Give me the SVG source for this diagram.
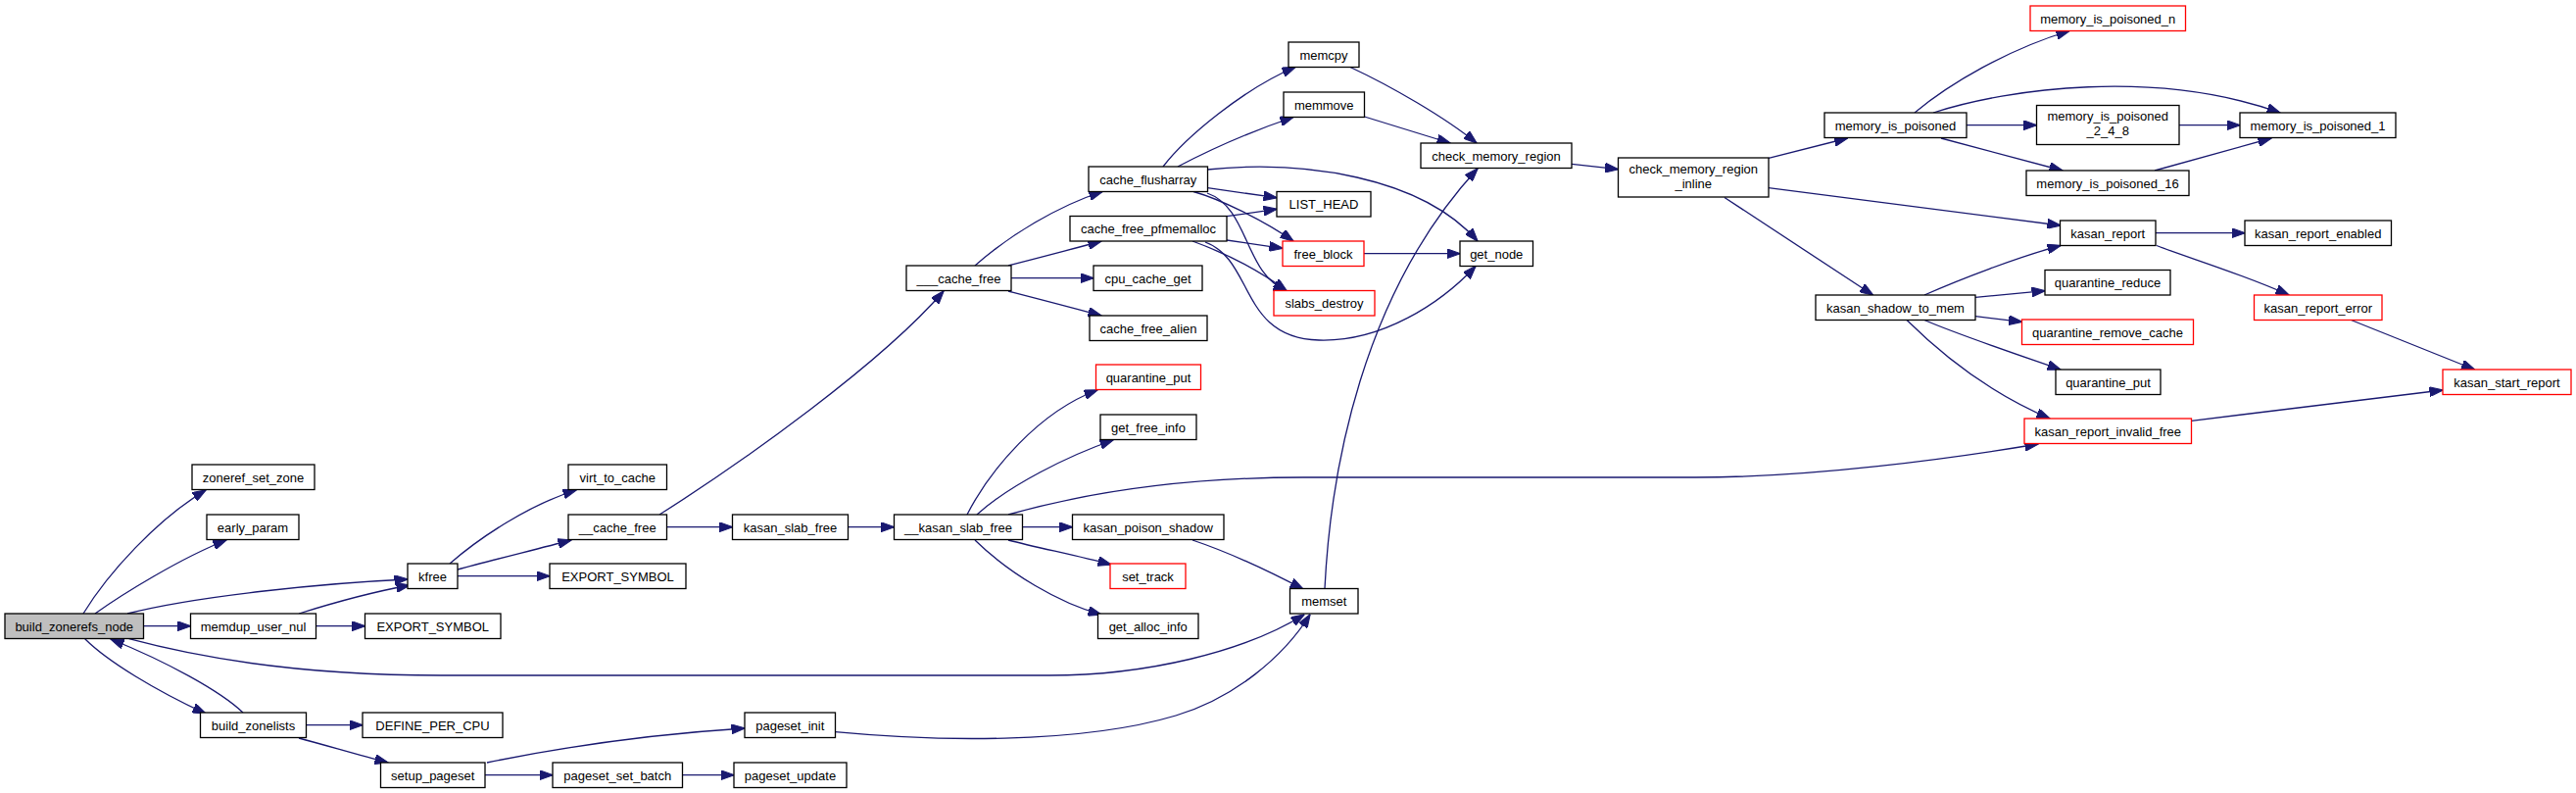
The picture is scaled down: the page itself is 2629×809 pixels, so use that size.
<svg xmlns="http://www.w3.org/2000/svg" width="2629" height="809" viewBox="0 0 2629 809">
<style>
.node rect{fill:#ffffff;stroke:#000000;stroke-width:1.3}
.node.red rect{stroke:#ff0000}
.node.root rect{fill:#bfbfbf}
.node text{font-family:"Liberation Sans",Arial,Helvetica,sans-serif;font-size:13px;text-anchor:middle;fill:#000000}
.edges path{fill:none;stroke:#191970;stroke-width:1.3;marker-end:url(#arr)}
</style>
<defs>
<marker id="arr" viewBox="0 0 14 10" refX="13.5" refY="5" markerWidth="14" markerHeight="10" markerUnits="userSpaceOnUse" orient="auto">
<path d="M0,0 L14,5 L0,10 z" fill="#191970" stroke="#191970" stroke-width="1"/>
</marker>
</defs>
<rect x="0" y="0" width="2629" height="809" fill="#ffffff"/>
<g id="connectors" class="edges">
<path d="M85,626 C110,585 160,530 210,500"/>
<path d="M97,626 C125,606 185,569 231,551"/>
<path d="M130,626 C200,608 330,595 416,591"/>
<path d="M146.5,638.7 L194.5,638.7"/>
<path d="M131.7,651.7 C200,670 300,689 450,689 L1071,689 C1170,689 1270,665 1331,627"/>
<path d="M86.7,651.7 C110,675 160,705 210,728"/>
<path d="M248,727 C225,705 170,675 113,652"/>
<path d="M305,626 C340,615 380,604 418,597"/>
<path d="M322.5,638.7 L372.5,638.7"/>
<path d="M459,575 C490,548 540,515 588,500"/>
<path d="M467,581 C500,572 545,561 583,551"/>
<path d="M467,587.7 L561,587.7"/>
<path d="M673,525 C760,470 900,370 963,297"/>
<path d="M680.5,537.7 L747.5,537.7"/>
<path d="M865.5,537.7 L912.5,537.7"/>
<path d="M987,525 C1010,480 1060,420 1120,398"/>
<path d="M997,525 C1030,495 1090,465 1136,449"/>
<path d="M1029,525 C1100,505 1200,487 1330,487 L1730,487 C1850,487 1990,468 2080,453"/>
<path d="M1043.5,537.7 L1094.5,537.7"/>
<path d="M1029,551 C1060,559 1100,567 1134,576"/>
<path d="M995,551 C1030,585 1080,615 1124,627"/>
<path d="M1217,551 C1250,562 1290,580 1330,601"/>
<path d="M312.5,739.7 L370,739.7"/>
<path d="M305,753 C335,761 365,770 396,778"/>
<path d="M497,778 C560,765 650,750 760,743"/>
<path d="M495,790.7 L564,790.7"/>
<path d="M696.5,790.7 L749,790.7"/>
<path d="M852.5,746.7 C950,756 1100,760 1200,730 C1260,712 1310,670 1337,627"/>
<path d="M1352,600.5 C1358,480 1390,300 1508,172"/>
<path d="M995,271 C1030,240 1080,210 1125,195.5"/>
<path d="M1029,271 C1060,263 1095,254 1124,246"/>
<path d="M1032,283.7 L1116,283.7"/>
<path d="M1029,297 C1060,305 1095,314 1124,322"/>
<path d="M1187,170 C1210,140 1270,90 1322,68.5"/>
<path d="M1202,170 C1240,150 1280,133 1320,119.5"/>
<path d="M1232,173 C1330,163 1450,180 1508,246"/>
<path d="M1232.5,191.7 L1303,201.7"/>
<path d="M1218,195.5 C1245,203 1290,225 1320,246"/>
<path d="M1232,197 C1275,212 1270,280 1313,296.5"/>
<path d="M1252,220.7 L1303,213.3"/>
<path d="M1252,245 L1309,253.3"/>
<path d="M1217,246 C1250,258 1285,276 1313,296.5"/>
<path d="M1230,247 C1280,265 1265,345 1346,347 C1410,349 1470,310 1506,271.5"/>
<path d="M1392,258.7 L1490,258.7"/>
<path d="M1378,68.5 C1420,88 1475,120 1507,146"/>
<path d="M1392.5,119 L1480,146"/>
<path d="M1604,167.3 L1651.5,172.7"/>
<path d="M1805,161.3 L1885.5,141"/>
<path d="M1805,191.7 L2103,230"/>
<path d="M1760,201.5 L1911.5,301"/>
<path d="M1954,115 C1990,85 2050,50 2112,31.5"/>
<path d="M1973,115 C2050,90 2200,70 2327,115"/>
<path d="M2007,127.7 L2078.5,127.7"/>
<path d="M1981,141 L2105,174"/>
<path d="M2224,127.7 L2286,127.7"/>
<path d="M2199,174 L2318,141"/>
<path d="M2200,237.7 L2291,237.7"/>
<path d="M2201,250.5 C2230,262 2290,280 2336,301"/>
<path d="M2399.5,326.5 L2525.5,377"/>
<path d="M1964,301 C2000,285 2060,262 2103,250.5"/>
<path d="M2016,303.3 L2087,296.7"/>
<path d="M2016,322.7 L2063.5,328.3"/>
<path d="M1964,326.5 C2000,342 2060,362 2103,377"/>
<path d="M1946,326.5 C1990,370 2040,405 2092,427"/>
<path d="M2236.5,429.3 L2493,398"/>
</g>
<g id="n_build_zonerefs_node" class="node root"><rect x="5" y="626" width="141.5" height="25.5"/><text x="75.75" y="643.5">build_zonerefs_node</text></g>
<g id="n_zoneref_set_zone" class="node"><rect x="196" y="474" width="125" height="25.5"/><text x="258.5" y="491.5">zoneref_set_zone</text></g>
<g id="n_early_param" class="node"><rect x="211" y="525" width="94" height="25.5"/><text x="258" y="542.5">early_param</text></g>
<g id="n_kfree" class="node"><rect x="416" y="575" width="51" height="25.5"/><text x="441.5" y="592.5">kfree</text></g>
<g id="n_memdup_user_nul" class="node"><rect x="194.5" y="626" width="128" height="25.5"/><text x="258.5" y="643.5">memdup_user_nul</text></g>
<g id="n_build_zonelists" class="node"><rect x="204.5" y="727" width="108" height="25.5"/><text x="258.5" y="744.5">build_zonelists</text></g>
<g id="n_export_symbol_1" class="node"><rect x="561" y="575" width="139" height="25.5"/><text x="630.5" y="592.5">EXPORT_SYMBOL</text></g>
<g id="n_export_symbol_2" class="node"><rect x="372.5" y="626" width="138.5" height="25.5"/><text x="441.75" y="643.5">EXPORT_SYMBOL</text></g>
<g id="n_define_per_cpu" class="node"><rect x="370" y="727" width="143" height="25.5"/><text x="441.5" y="744.5">DEFINE_PER_CPU</text></g>
<g id="n_setup_pageset" class="node"><rect x="388.5" y="778" width="106.5" height="25.5"/><text x="441.75" y="795.5">setup_pageset</text></g>
<g id="n_virt_to_cache" class="node"><rect x="580" y="474" width="100.5" height="25.5"/><text x="630.25" y="491.5">virt_to_cache</text></g>
<g id="n___cache_free" class="node"><rect x="580" y="525" width="100.5" height="25.5"/><text x="630.25" y="542.5">__cache_free</text></g>
<g id="n_pageset_set_batch" class="node"><rect x="564" y="778" width="132.5" height="25.5"/><text x="630.25" y="795.5">pageset_set_batch</text></g>
<g id="n_kasan_slab_free" class="node"><rect x="747.5" y="525" width="118" height="25.5"/><text x="806.5" y="542.5">kasan_slab_free</text></g>
<g id="n_pageset_init" class="node"><rect x="760" y="727" width="92.5" height="25.5"/><text x="806.25" y="744.5">pageset_init</text></g>
<g id="n_pageset_update" class="node"><rect x="749" y="778" width="115" height="25.5"/><text x="806.5" y="795.5">pageset_update</text></g>
<g id="n____cache_free" class="node"><rect x="925" y="271" width="107" height="25.5"/><text x="978.5" y="288.5">___cache_free</text></g>
<g id="n___kasan_slab_free" class="node"><rect x="912.5" y="525" width="131" height="25.5"/><text x="978" y="542.5">__kasan_slab_free</text></g>
<g id="n_cache_flusharray" class="node"><rect x="1111" y="170" width="121.5" height="25.5"/><text x="1171.75" y="187.5">cache_flusharray</text></g>
<g id="n_cache_free_pfmemalloc" class="node"><rect x="1092" y="220.5" width="160" height="25.5"/><text x="1172" y="238">cache_free_pfmemalloc</text></g>
<g id="n_cpu_cache_get" class="node"><rect x="1116" y="271" width="111" height="25.5"/><text x="1171.5" y="288.5">cpu_cache_get</text></g>
<g id="n_cache_free_alien" class="node"><rect x="1112" y="322" width="120" height="25.5"/><text x="1172" y="339.5">cache_free_alien</text></g>
<g id="n_quarantine_put_1" class="node red"><rect x="1118.5" y="372" width="107" height="25.5"/><text x="1172" y="389.5">quarantine_put</text></g>
<g id="n_get_free_info" class="node"><rect x="1123" y="423" width="98" height="25.5"/><text x="1172" y="440.5">get_free_info</text></g>
<g id="n_kasan_poison_shadow" class="node"><rect x="1094.5" y="525" width="154.5" height="25.5"/><text x="1171.75" y="542.5">kasan_poison_shadow</text></g>
<g id="n_set_track" class="node red"><rect x="1133" y="575" width="77" height="25.5"/><text x="1171.5" y="592.5">set_track</text></g>
<g id="n_get_alloc_info" class="node"><rect x="1120.5" y="626" width="102.5" height="25.5"/><text x="1171.75" y="643.5">get_alloc_info</text></g>
<g id="n_memcpy" class="node"><rect x="1315" y="43" width="72" height="25.5"/><text x="1351" y="60.5">memcpy</text></g>
<g id="n_memmove" class="node"><rect x="1310" y="94" width="82.5" height="25.5"/><text x="1351.25" y="111.5">memmove</text></g>
<g id="n_list_head" class="node"><rect x="1303" y="195.5" width="96" height="25.5"/><text x="1351" y="213">LIST_HEAD</text></g>
<g id="n_free_block" class="node red"><rect x="1309" y="246" width="83" height="25.5"/><text x="1350.5" y="263.5">free_block</text></g>
<g id="n_slabs_destroy" class="node red"><rect x="1300" y="296.5" width="103" height="25.5"/><text x="1351.5" y="314">slabs_destroy</text></g>
<g id="n_memset" class="node"><rect x="1316.5" y="600.5" width="69.5" height="25.5"/><text x="1351.25" y="618">memset</text></g>
<g id="n_check_memory_region" class="node"><rect x="1450" y="146" width="154" height="25.5"/><text x="1527" y="163.5">check_memory_region</text></g>
<g id="n_get_node" class="node"><rect x="1490" y="246" width="74.5" height="25.5"/><text x="1527.25" y="263.5">get_node</text></g>
<g id="n_check_memory_region_inline" class="node"><rect x="1651.5" y="161" width="153.5" height="40"/><text x="1728.25" y="176.5">check_memory_region</text><text x="1728.25" y="191.5">_inline</text></g>
<g id="n_memory_is_poisoned" class="node"><rect x="1862" y="115" width="145" height="25.5"/><text x="1934.5" y="132.5">memory_is_poisoned</text></g>
<g id="n_kasan_shadow_to_mem" class="node"><rect x="1853" y="301" width="163" height="25.5"/><text x="1934.5" y="318.5">kasan_shadow_to_mem</text></g>
<g id="n_memory_is_poisoned_n" class="node red"><rect x="2072" y="6" width="158.5" height="25.5"/><text x="2151.25" y="23.5">memory_is_poisoned_n</text></g>
<g id="n_memory_is_poisoned_2_4_8" class="node"><rect x="2078.5" y="107.5" width="145.5" height="40"/><text x="2151.25" y="123">memory_is_poisoned</text><text x="2151.25" y="138">_2_4_8</text></g>
<g id="n_memory_is_poisoned_16" class="node"><rect x="2068" y="174" width="166" height="25.5"/><text x="2151" y="191.5">memory_is_poisoned_16</text></g>
<g id="n_kasan_report" class="node"><rect x="2102.5" y="225" width="97.5" height="25.5"/><text x="2151.25" y="242.5">kasan_report</text></g>
<g id="n_quarantine_reduce" class="node"><rect x="2087" y="275.5" width="128" height="25.5"/><text x="2151" y="293">quarantine_reduce</text></g>
<g id="n_quarantine_remove_cache" class="node red"><rect x="2063.5" y="326" width="175" height="25.5"/><text x="2151" y="343.5">quarantine_remove_cache</text></g>
<g id="n_quarantine_put_2" class="node"><rect x="2098" y="377" width="107" height="25.5"/><text x="2151.5" y="394.5">quarantine_put</text></g>
<g id="n_kasan_report_invalid_free" class="node red"><rect x="2066" y="427" width="170.5" height="25.5"/><text x="2151.25" y="444.5">kasan_report_invalid_free</text></g>
<g id="n_memory_is_poisoned_1" class="node"><rect x="2286" y="115" width="159" height="25.5"/><text x="2365.5" y="132.5">memory_is_poisoned_1</text></g>
<g id="n_kasan_report_enabled" class="node"><rect x="2291" y="225" width="149.5" height="25.5"/><text x="2365.75" y="242.5">kasan_report_enabled</text></g>
<g id="n_kasan_report_error" class="node red"><rect x="2300.5" y="301" width="130.5" height="25.5"/><text x="2365.75" y="318.5">kasan_report_error</text></g>
<g id="n_kasan_start_report" class="node red"><rect x="2493" y="377" width="131" height="25.5"/><text x="2558.5" y="394.5">kasan_start_report</text></g>
</svg>
